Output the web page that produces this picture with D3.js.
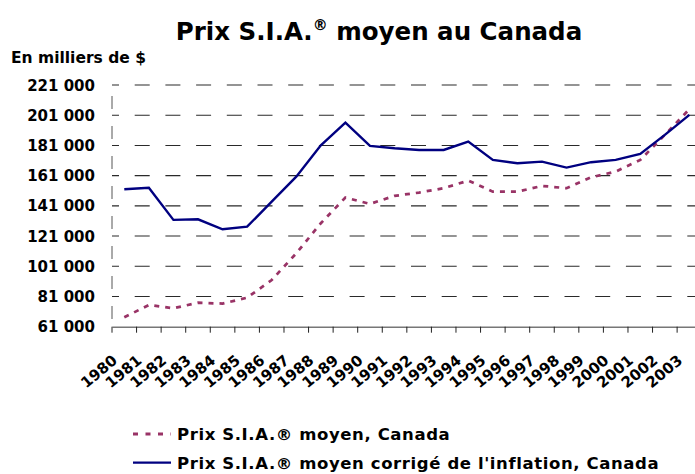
<!DOCTYPE html>
<html>
<head>
<meta charset="utf-8">
<script src="https://cdn.jsdelivr.net/npm/d3@7"></script>
<style>
  body { margin: 0; background: #fff; }
  svg { display: block; font-family: "DejaVu Sans", sans-serif; font-weight: bold; }
</style>
</head>
<body>
<svg id="chart"></svg>
<script>
document.addEventListener("DOMContentLoaded", function() {
  const width = 695;
  const height = 474;

  // Data
  const years = ["1980","1981","1982","1983","1984","1985","1986","1987","1988","1989","1990","1991",
                 "1992","1993","1994","1995","1996","1997","1998","1999","2000","2001","2002","2003"];
  const nominal = [67200, 75400, 73200, 76900, 76300, 80200, 91900, 109600, 129500, 146500, 142300, 147600,
                   149800, 152700, 157700, 150400, 150400, 154200, 152700, 159900, 163700, 171400, 188000, 205000];
  const adjusted = [152000, 153000, 131700, 132100, 125500, 127200, 143800, 160300, 181100, 196100, 180700, 179100,
                    178000, 178000, 183500, 171400, 169200, 170300, 166300, 169900, 171400, 175400, 188000, 201200];
  const yTicks = [61000, 81000, 101000, 121000, 141000, 161000, 181000, 201000, 221000];

  const series = [
    { name: "Prix S.I.A.\u00AE moyen, Canada", values: nominal, color: "#993366", dash: "5,6", width: 2.75 },
    { name: "Prix S.I.A.\u00AE moyen corrig\u00E9 de l'inflation, Canada", values: adjusted, color: "#000080", dash: null, width: 2.4 }
  ];

  const left = 112, top = 85, bottom = 326.7;
  const bandW = 24.57;

  const x = d3.scaleBand()
    .domain(years)
    .range([left, left + bandW * years.length]);

  const y = d3.scaleLinear()
    .domain([61000, 221000])
    .range([bottom, top]);

  const svg = d3.select("#chart")
    .attr("width", width)
    .attr("height", height);

  // Title
  const title = svg.append("text")
    .attr("x", 379)
    .attr("y", 40)
    .attr("text-anchor", "middle")
    .style("font-size", "24.5px");
  title.append("tspan").text("Prix S.I.A.");
  title.append("tspan").attr("dy", -10).style("font-size", "15px").text("\u00AE");
  title.append("tspan").attr("dy", 10).text(" moyen au Canada");

  svg.append("text")
    .attr("x", 11)
    .attr("y", 63)
    .style("font-size", "15.5px")
    .text("En milliers de $");

  // Horizontal dashed gridlines
  svg.append("g")
    .selectAll("line")
    .data(yTicks.slice(1))
    .join("line")
    .attr("x1", left)
    .attr("x2", x.range()[1])
    .attr("y1", d => y(d))
    .attr("y2", d => y(d))
    .attr("stroke", "#2a2a2a")
    .attr("stroke-width", 1.1)
    .attr("stroke-dasharray", "15,15.7")
    .attr("stroke-dashoffset", 8);

  // Y axis (dashed vertical) and labels
  svg.append("line")
    .attr("x1", left).attr("x2", left)
    .attr("y1", y(221000)).attr("y2", bottom)
    .attr("stroke", "#555")
    .attr("stroke-dasharray", "13,17")
    .attr("stroke-dashoffset", -11);

  const fmt = d => d3.format(",")(d).replace(/,/g, " ");
  svg.append("g")
    .selectAll("text")
    .data(yTicks)
    .join("text")
    .attr("x", 95)
    .attr("y", d => y(d) + 5.5)
    .attr("text-anchor", "end")
    .style("font-size", "15px")
    .text(fmt);

  // X axis
  const xAxis = svg.append("g")
    .attr("transform", `translate(0,${bottom})`)
    .call(d3.axisBottom(x).tickSize(0).tickFormat(""));
  xAxis.select(".domain").attr("stroke", "#777").attr("stroke-width", 1.6);
  xAxis.selectAll(".tick").remove();

  svg.append("g")
    .selectAll("line")
    .data(years)
    .join("line")
    .attr("x1", d => x(d))
    .attr("x2", d => x(d))
    .attr("y1", bottom)
    .attr("y2", bottom + 6)
    .attr("stroke", "#222");

  svg.append("g")
    .selectAll("text")
    .data(years)
    .join("text")
    .attr("transform", d => `translate(${x(d) + x.bandwidth() / 2 - 6},362) rotate(-40)`)
    .attr("text-anchor", "end")
    .style("font-size", "15px")
    .text(d => d);

  // Lines
  const line = d3.line()
    .x((d, i) => x(years[i]) + x.bandwidth() / 2)
    .y(d => y(d));

  svg.append("g")
    .selectAll("path")
    .data(series)
    .join("path")
    .attr("d", d => line(d.values))
    .attr("fill", "none")
    .attr("stroke", d => d.color)
    .attr("stroke-width", d => d.width)
    .attr("stroke-dasharray", d => d.dash);

  // Legend
  const legend = svg.append("g")
    .selectAll("g")
    .data(series)
    .join("g")
    .attr("transform", (d, i) => `translate(133,${434 + i * 28.5})`);

  legend.append("line")
    .attr("x1", 0)
    .attr("x2", 38)
    .attr("stroke", d => d.color)
    .attr("stroke-width", d => d.dash ? 3 : 2.25)
    .attr("stroke-dasharray", d => d.dash ? "5,7.5" : null);

  legend.append("text")
    .attr("x", 44)
    .attr("y", 6)
    .style("font-size", "16.5px")
    .style("letter-spacing", "0.6px")
    .text(d => d.name);
});
</script>
</body>
</html>
